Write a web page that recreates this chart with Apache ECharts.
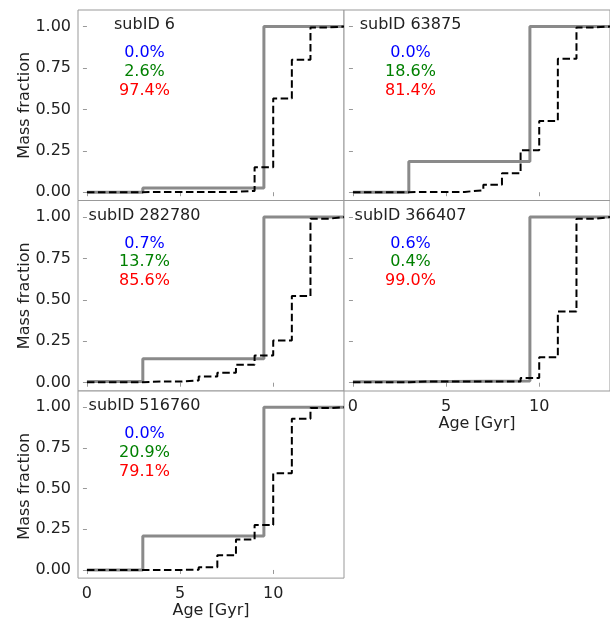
<!DOCTYPE html>
<html>
<head>
<meta charset="utf-8">
<script src="https://cdn.jsdelivr.net/npm/echarts@6/dist/echarts.min.js"></script>
<style>
  html, body { margin: 0; padding: 0; background: #fff; }
  #chart { width: 610px; height: 620px; }
</style>
</head>
<body>
<div id="chart"></div>
<script>
// Subhalo identifiers, one panel each
const subIds = ['6', '63875', '282780', '366407', '516760'];

// Mass percentages in the three age bins (young / intermediate / old)
const pctBlue  = [0.0, 0.0, 0.7, 0.6, 0.0];
const pctGreen = [2.6, 18.6, 13.7, 0.4, 20.9];
const pctRed   = [97.4, 81.4, 85.6, 99.0, 79.1];

// Left edges of the three coarse age bins [Gyr]
const coarseEdges = [0, 3, 9.5];

// Left edges of the 1-Gyr age bins [Gyr]
const fineEdges = [0, 1, 2, 3, 4, 5, 6, 7, 8, 9, 10, 11, 12, 13];

// Cumulative mass fraction in 1-Gyr bins
const cumFine6      = [0, 0, 0, 0.002, 0.002, 0.002, 0.002, 0.002, 0.008, 0.15, 0.565, 0.80, 0.995, 1.0];
const cumFine63875  = [0, 0, 0, 0.002, 0.002, 0.002, 0.012, 0.045, 0.115, 0.253, 0.43, 0.805, 0.995, 1.0];
const cumFine282780 = [0.003, 0.003, 0.003, 0.007, 0.007, 0.014, 0.038, 0.06, 0.108, 0.164, 0.255, 0.523, 0.99, 1.0];
const cumFine366407 = [0.003, 0.003, 0.003, 0.008, 0.008, 0.008, 0.008, 0.008, 0.008, 0.028, 0.154, 0.43, 0.99, 1.0];
const cumFine516760 = [0, 0, 0, 0, 0, 0.002, 0.016, 0.09, 0.187, 0.277, 0.594, 0.93, 0.995, 1.0];
const cumFine = [cumFine6, cumFine63875, cumFine282780, cumFine366407, cumFine516760];

// Axis ticks
const xTicks = [0, 5, 10];
const yTicks = [0, 0.25, 0.5, 0.75, 1.0];
const xMin = -0.48, xMax = 13.8;
const yMin = -0.05, yMax = 1.1;

// ---- layout ----
const colLeft = [78, 344];
const rowTop = [10, 200.5, 391];
const panelW = 266, panelH = 190.5;
const place = [[0, 0], [1, 0], [0, 1], [1, 1], [0, 2]];
const hasXLabels = [false, false, false, true, true];
const hasYLabels = [true, false, true, false, true];

const FONT = 'DejaVu Sans';
const TXT = '#222';
const FRAME = '#999';

function stepPoints(edges, values) {
  const pts = edges.map((e, i) => [e, values[i]]);
  pts.push([xMax, values[values.length - 1]]);
  return pts;
}

const grids = [], xAxes = [], yAxes = [], series = [], graphics = [];

place.forEach(([c, r], i) => {
  const left = colLeft[c], top = rowTop[r];
  grids.push({
    left: left, top: top, width: panelW, height: panelH,
    show: true, borderColor: FRAME, borderWidth: 1, backgroundColor: '#fff'
  });
  xAxes.push({
    gridIndex: i, type: 'value', min: xMin, max: xMax,
    axisLine: { show: false },
    splitLine: { show: false },
    axisTick: { show: true, inside: false, length: 4, customValues: xTicks,
                lineStyle: { color: FRAME } },
    axisLabel: { show: hasXLabels[i], customValues: xTicks, margin: 8,
                 fontFamily: FONT, fontSize: 16, color: TXT },
    name: hasXLabels[i] ? 'Age [Gyr]' : '',
    nameLocation: 'middle', nameGap: 23,
    nameTextStyle: { fontFamily: FONT, fontSize: 16, color: TXT, verticalAlign: 'top' }
  });
  yAxes.push({
    gridIndex: i, type: 'value', min: yMin, max: yMax,
    axisLine: { show: false },
    splitLine: { show: false },
    axisTick: { show: true, inside: false, length: 4, customValues: yTicks,
                lineStyle: { color: FRAME } },
    axisLabel: { show: hasYLabels[i], customValues: yTicks, margin: 7,
                 fontFamily: FONT, fontSize: 16, color: TXT,
                 formatter: v => v.toFixed(2) }
  });

  // coarse cumulative fraction, built from the three percentages
  const b = pctBlue[i] / 100, g = pctGreen[i] / 100;
  const coarse = [b, b + g, 1.0];
  series.push({
    type: 'line', xAxisIndex: i, yAxisIndex: i, step: 'end',
    data: stepPoints(coarseEdges, coarse),
    symbol: 'none', clip: true, silent: true,
    lineStyle: { color: '#8a8a8a', width: 3 }, z: 2
  });
  series.push({
    type: 'line', xAxisIndex: i, yAxisIndex: i, step: 'end',
    data: stepPoints(fineEdges, cumFine[i]),
    symbol: 'none', clip: true, silent: true,
    lineStyle: { color: '#000', width: 2, type: [7.5, 3.5] }, z: 3
  });

  const cx = left + 66.5;
  const base = { fontFamily: FONT, fontSize: 16, align: 'center', verticalAlign: 'middle' };
  graphics.push({ type: 'text', x: cx, y: top + 15, z: 10,
    style: Object.assign({ text: 'subID ' + subIds[i], fill: TXT }, base) });
  graphics.push({ type: 'text', x: cx, y: top + 43, z: 10,
    style: Object.assign({ text: pctBlue[i].toFixed(1) + '%', fill: '#0000ff' }, base) });
  graphics.push({ type: 'text', x: cx, y: top + 61.5, z: 10,
    style: Object.assign({ text: pctGreen[i].toFixed(1) + '%', fill: '#008000' }, base) });
  graphics.push({ type: 'text', x: cx, y: top + 80.5, z: 10,
    style: Object.assign({ text: pctRed[i].toFixed(1) + '%', fill: '#ff0000' }, base) });
});

// shared y-axis label for each row
rowTop.forEach(top => {
  graphics.push({ type: 'text', x: 25, y: top + panelH / 2, rotation: Math.PI / 2, z: 10,
    style: { text: 'Mass fraction', fontFamily: FONT, fontSize: 16, fill: TXT,
             align: 'center', verticalAlign: 'middle' } });
});

const chart = echarts.init(document.getElementById('chart'), null, { renderer: 'canvas' });
chart.setOption({
  animation: false,
  backgroundColor: '#fff',
  grid: grids,
  xAxis: xAxes,
  yAxis: yAxes,
  series: series,
  graphic: graphics
});
</script>
</body>
</html>
